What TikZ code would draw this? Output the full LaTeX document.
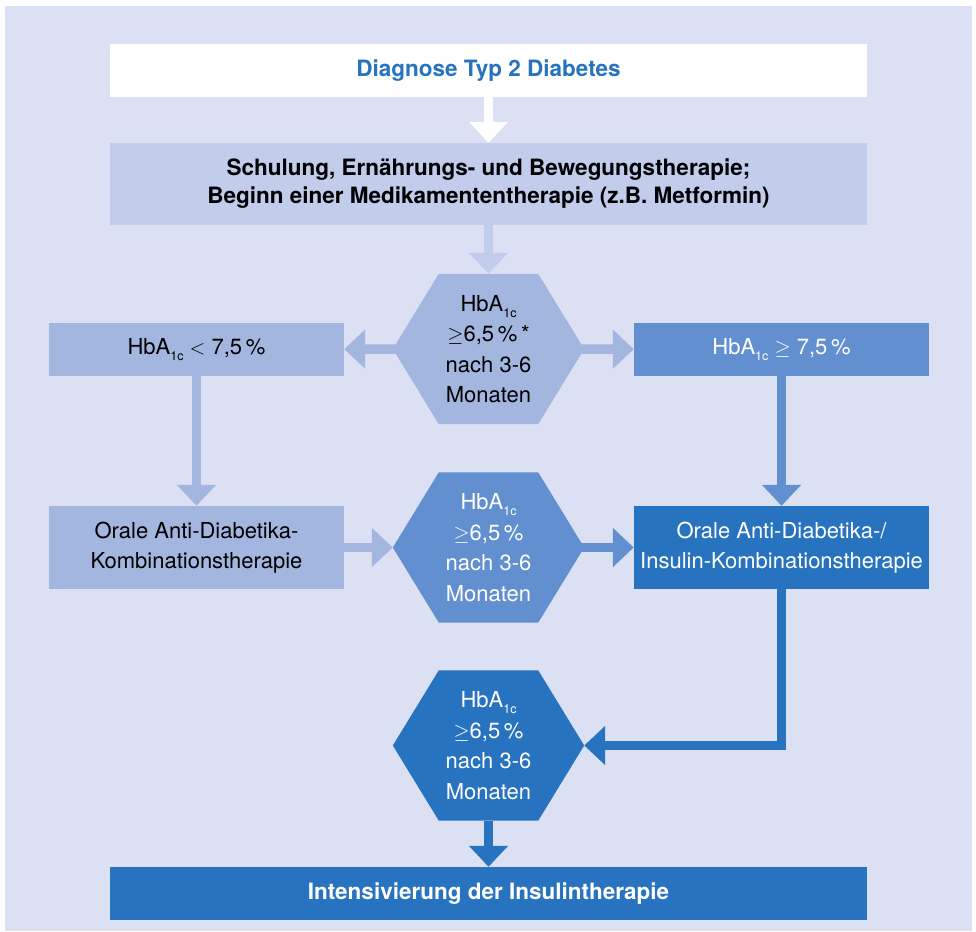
\documentclass[tikz,border=0pt]{standalone}
\usepackage{fontspec}
\setmainfont{TeX Gyre Heros}
\usetikzlibrary{arrows.meta,backgrounds}

\definecolor{bgblue}{HTML}{DCE0F3}
\definecolor{paleblue}{HTML}{C2CCEB}
\definecolor{lightblue}{HTML}{A3B6E0}
\definecolor{midblue}{HTML}{628FCF}
\definecolor{darkblue}{HTML}{2873BF}

\newcommand{\HbA}{HbA\raisebox{-6pt}{\fontsize{12.5}{12.5}\selectfont 1c}}

\tikzset{
  wide/.style={minimum width=757pt, minimum height=53pt, inner sep=0pt, align=center, font=\fontsize{22.5}{28}\selectfont\bfseries},
  side/.style={minimum width=295pt, minimum height=53pt, inner sep=0pt, align=center, font=\fontsize{22}{30}\selectfont},
  hexa/.style={minimum width=99pt, minimum height=150pt, inner sep=0pt, align=center, font=\fontsize{22}{30.5}\selectfont},
  arr/.style={line width=9.5pt, -{Triangle[width=38pt,length=21pt]}},
}

\begin{document}
\begin{tikzpicture}[x=1pt, y=-1pt]
    \useasboundingbox (0,0) rectangle (976,931);

    % Kopf
    \node[wide, fill=white, text=darkblue] (diag) at (488.5,70.5) {Diagnose Typ 2 Diabetes};
    \node[wide, fill=paleblue, minimum height=82pt] (schul) at (488.5,184) {Schulung, Ernährungs- und Bewegungstherapie;\\Beginn einer Medikamententherapie (z.B. Metformin)};

    % erste Stufe
    \node[hexa] (h1) at (488.5,349) {\HbA\\$\geq$6,5\,\%\,*\\nach 3-6\\Monaten};
    \node[side, fill=lightblue] (lo) at (196.5,349.5) {\HbA\ $<$ 7,5\,\%};
    \node[side, fill=midblue, text=white] (hi) at (781.5,349.5) {\HbA\ $\geq$ 7,5\,\%};

    % zweite Stufe
    \node[side, fill=lightblue, minimum height=83pt] (oral) at (196.5,547.5) {Orale Anti-Diabetika-\\Kombinationstherapie};
    \node[hexa, text=white] (h2) at (488.5,547.5) {\HbA\\$\geq$6,5\,\%\\nach 3-6\\Monaten};
    \node[side, fill=darkblue, text=white, minimum height=83pt] (insul) at (781.5,547.5) {Orale Anti-Diabetika-/\\Insulin-Kombinationstherapie};

    % dritte Stufe
    \node[hexa, text=white] (h3) at (488.5,745.5) {\HbA\\$\geq$6,5\,\%\\nach 3-6\\Monaten};
    \node[wide, fill=darkblue, text=white] (inten) at (488.5,893.5) {Intensivierung der Insulintherapie};

    % Hintergrund und Sechsecke
    \begin{pgfonlayer}{background}
        \fill[bgblue] (5,6) rectangle (972,931);
        \foreach \h/\c in {h1/lightblue, h2/midblue, h3/darkblue}
            \fill[\c] (\h.north west) -- (\h.north east) -- ([xshift=46pt]\h.east) -- (\h.south east)
                -- (\h.south west) -- ([xshift=-46pt]\h.west) -- cycle;
    \end{pgfonlayer}

    % Pfeile
    \draw[arr, white] (diag) -- (schul);
    \draw[arr, paleblue] (schul) -- (h1);
    \draw[arr, lightblue] (h1.west) -- (lo);
    \draw[arr, lightblue] (h1.east) -- (hi);
    \draw[arr, lightblue] (lo) -- (oral);
    \draw[arr, midblue] (hi) -- (insul);
    \draw[arr, lightblue] (oral) -- ([xshift=-46pt]h2.west);
    \draw[arr, midblue] (h2.east) -- (insul);
    \draw[arr, darkblue] (insul) |- ([xshift=46pt]h3.east);
    \draw[arr, darkblue] (h3) -- (inten);
\end{tikzpicture}
\end{document}
